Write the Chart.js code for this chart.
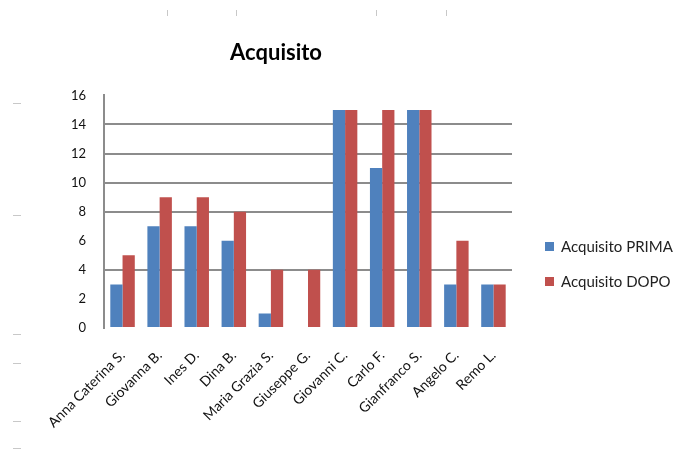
<!DOCTYPE html>
<html>
<head>
<meta charset="utf-8">
<script src="https://cdn.jsdelivr.net/npm/chart.js@4.4.1/dist/chart.umd.min.js"></script>
<style>
  html, body { margin: 0; padding: 0; background: #fff; overflow: hidden; }
  #wrap { width: 687px; height: 455px; }
</style>
</head>
<body>
<div id="wrap"><canvas id="acquisitoChart" width="687" height="455"></canvas></div>
<script>
const names = [
  "Anna Caterina S.", "Giovanna B.", "Ines D.", "Dina B.", "Maria Grazia S.",
  "Giuseppe G.", "Giovanni C.", "Carlo F.", "Gianfranco S.", "Angelo C.", "Remo L."
];
const acquisitoPrima = [3, 7, 7, 6, 1, 0, 15, 11, 15, 3, 3];
const acquisitoDopo = [5, 9, 9, 8, 4, 4, 15, 15, 15, 6, 3];
const yTicks = [0, 2, 4, 6, 8, 10, 12, 14, 16];
const gridValues = [4, 8, 10, 12, 14];

const BLUE = "#4F81BD";
const RED = "#C0504D";
const FONT = "Lato, 'Liberation Sans', sans-serif";

// legend on the right, drawn by hand so it can run off the canvas edge
const sideLegend = {
  id: "sideLegend",
  afterDraw(chart) {
    const c = chart.ctx;
    c.save();
    c.font = "15px " + FONT;
    c.textBaseline = "middle";
    const rows = [247, 282];
    chart.data.datasets.forEach((ds, i) => {
      c.fillStyle = ds.backgroundColor;
      c.fillRect(545, rows[i] - 5, 9, 9);
      c.fillStyle = "#222";
      c.fillText(ds.label, 561, rows[i]);
    });
    c.restore();
  }
};

// little cell markers around the sheet border
const sheetMarks = {
  id: "sheetMarks",
  beforeDraw(chart) {
    const c = chart.ctx;
    c.save();
    c.strokeStyle = "#c8c8c8";
    c.lineWidth = 1;
    [103, 215, 334, 363, 421, 448].forEach(y => {
      c.beginPath(); c.moveTo(13, y + 0.5); c.lineTo(21, y + 0.5); c.stroke();
    });
    [167, 236, 376, 446].forEach(x => {
      c.beginPath(); c.moveTo(x + 0.5, 10); c.lineTo(x + 0.5, 16); c.stroke();
    });
    c.restore();
  }
};

new Chart(document.getElementById("acquisitoChart").getContext("2d"), {
  type: "bar",
  data: {
    labels: names,
    datasets: [
      { label: "Acquisito PRIMA", data: acquisitoPrima, backgroundColor: BLUE },
      { label: "Acquisito DOPO", data: acquisitoDopo, backgroundColor: RED }
    ]
  },
  options: {
    responsive: false,
    animation: false,
    layout: { padding: { left: 40, right: 175, top: 0, bottom: 0 } },
    datasets: { bar: { categoryPercentage: 0.66, barPercentage: 1.0 } },
    plugins: {
      legend: { display: false },
      tooltip: { enabled: false },
      title: {
        display: true,
        text: "Acquisito",
        color: "#000",
        font: { family: FONT, size: 22, weight: "bold" },
        padding: { top: 40, bottom: 29 }
      }
    },
    scales: {
      x: {
        grid: { display: false, drawTicks: false },
        border: { display: false },
        ticks: {
          color: "#111",
          font: { family: FONT, size: 14 },
          minRotation: 45,
          maxRotation: 45,
          padding: 19,
          autoSkip: false
        },
        afterFit: (scale) => { scale.height = 127; }
      },
      y: {
        min: 0,
        max: 16,
        afterBuildTicks: (axis) => { axis.ticks = yTicks.map(v => ({ value: v })); },
        grid: {
          drawTicks: false,
          lineWidth: 2,
          color: (ctx) => gridValues.includes(ctx.tick && ctx.tick.value) ? "#8c8c8c" : "rgba(0,0,0,0)"
        },
        border: { display: true, color: "#8c8c8c", width: 2 },
        ticks: {
          color: "#111",
          font: { family: FONT, size: 13 },
          padding: 18
        },
        afterFit: (scale) => { scale.width = 64; }
      }
    }
  },
  plugins: [sideLegend, sheetMarks]
});
</script>
</body>
</html>
